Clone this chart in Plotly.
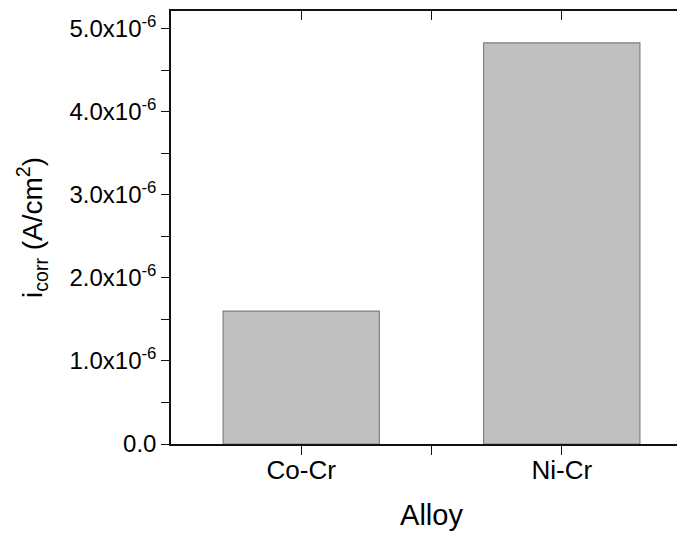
import plotly.graph_objects as go

categories = ["Co-Cr", "Ni-Cr"]
icorr = [1.60e-6, 4.83e-6]
y_tick_vals = [0, 1e-6, 2e-6, 3e-6, 4e-6, 5e-6]
y_tick_text = ["0.0", "1.0x10<sup>-6</sup>", "2.0x10<sup>-6</sup>", "3.0x10<sup>-6</sup>",
               "4.0x10<sup>-6</sup>", "5.0x10<sup>-6</sup>"]
y_minor_vals = [0.5e-6, 1.5e-6, 2.5e-6, 3.5e-6, 4.5e-6]

FONT = "Liberation Sans, Arial, sans-serif"
xpos = list(range(len(categories)))
xr = [-0.5, 1.5]
yr = [0, 5.213e-6]

fig = go.Figure()
fig.add_trace(go.Bar(x=xpos, y=icorr, width=0.6,
                     marker=dict(color="#c0c0c0", line=dict(color="#808080", width=1.2)),
                     showlegend=False))
fig.add_trace(go.Scatter(x=[None], y=[None], xaxis="x2", yaxis="y2", showlegend=False))

axis_common = dict(showgrid=False, zeroline=False, linecolor="#111", linewidth=1.5,
                   tickcolor="#111", tickwidth=1.3, automargin=False)

fig.update_layout(
    width=685, height=540,
    margin=dict(l=163, r=1, t=3, b=104),
    paper_bgcolor="white", plot_bgcolor="white",
    font=dict(family=FONT, color="black"),
    xaxis=dict(range=xr, tickvals=xpos, ticktext=categories, ticks="outside", ticklen=9,
               showline=True, tickfont=dict(size=26), ticklabelstandoff=-7,
               minor=dict(tickvals=[0.5], ticks="outside", ticklen=9, tickcolor="#111", tickwidth=1.3),
               title=dict(text="Alloy", font=dict(size=29), standoff=21),
               **axis_common),
    yaxis=dict(range=yr, tickvals=y_tick_vals, ticktext=y_tick_text, ticks="outside", ticklen=8,
               showline=True, tickfont=dict(size=24),
               minor=dict(tickvals=y_minor_vals, ticks="outside", ticklen=8, tickcolor="#111", tickwidth=1.3),
               title=dict(text="i<sub>corr</sub> (A/cm<sup>2</sup>)", font=dict(size=28), standoff=19),
               **axis_common),
    xaxis2=dict(range=xr, overlaying="x", side="top", anchor="y", tickvals=[0, 0.5, 1],
                ticks="inside", ticklen=9, showticklabels=False, showline=True, **axis_common),
    yaxis2=dict(range=yr, overlaying="y", side="right", anchor="x", tickvals=y_tick_vals,
                ticks="inside", ticklen=8, showticklabels=False, showline=True,
                **axis_common),
)

fig.write_html("out.html")
